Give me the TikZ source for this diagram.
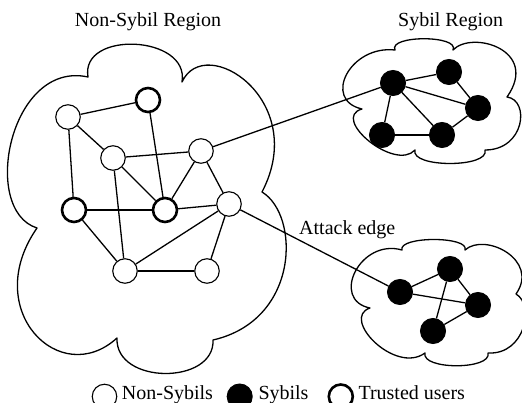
\documentclass[tikz,border=0pt]{standalone}
\usepackage{fontspec}
\setmainfont{Liberation Serif}
\begin{document}
\begin{tikzpicture}[x=1pt,y=-1pt,
  user/.style={circle, draw=black, fill=white, line width=1.1pt, minimum size=24.5pt, inner sep=0pt},
  trusted/.style={user, line width=2.6pt, minimum size=24pt},
  sybil/.style={circle, draw=black, fill=black, line width=1pt, minimum size=25pt, inner sep=0pt},
  link/.style={line width=1.3pt},
  region/.style={line width=1.3pt, line join=round, fill=white},
  caption/.style={font=\fontsize{20}{24}\selectfont, inner sep=0pt}]

\path[use as bounding box] (0,0) rectangle (522,403);
\clip (0,0) rectangle (522,403);
\fill[white] (0,0) rectangle (522,403);

% honest region (cloud)
\draw[region] (88,77)
  .. controls (80,30) and (190,35) .. (182,82)
  .. controls (205,32) and (310,100) .. (262,192)
  .. controls (300,215) and (300,320) .. (213,340)
  .. controls (215,385) and (115,385) .. (117,338)
  .. controls (60,390) and (-20,310) .. (37,228)
  .. controls (-20,210) and (10,60) .. (88,77) -- cycle;

% upper Sybil region
\draw[region] (395,50)
  .. controls (388,35) and (460,35) .. (453,50)
  .. controls (472,30) and (540,50) .. (507,97)
  .. controls (530,100) and (525,150) .. (485,150)
  .. controls (490,168) and (410,168) .. (415,150)
  .. controls (395,172) and (330,118) .. (362,109)
  .. controls (322,100) and (350,45) .. (395,50) -- cycle;

% lower Sybil region
\draw[region] (402,250)
  .. controls (398,236) and (470,236) .. (465,250)
  .. controls (485,232) and (540,260) .. (516,294)
  .. controls (535,305) and (525,355) .. (488,353)
  .. controls (492,370) and (421,370) .. (425,353)
  .. controls (395,375) and (340,318) .. (370,308)
  .. controls (330,300) and (360,238) .. (402,250) -- cycle;

% captions
\node[caption, anchor=base] (capH) at (148,26.5) {Non-Sybil Region};
\node[caption, anchor=base west] (capS) at (398,26.5) {Sybil Region};
\node[caption, anchor=base west] (capA) at (299,234.5) {Attack edge};

% honest users
\node[user]    (a)  at (68,117) {};
\node[trusted] (t1) at (148,100) {};
\node[user]    (b)  at (113,158) {};
\node[user]    (c)  at (201,151) {};
\node[trusted] (t2) at (74,210) {};
\node[trusted] (t3) at (165,210) {};
\node[user]    (d)  at (229,204) {};
\node[user]    (e)  at (125,271) {};
\node[user]    (f)  at (207,271) {};

% Sybils, upper group
\node[sybil] (s1) at (393,83) {};
\node[sybil] (s2) at (449,72) {};
\node[sybil] (s3) at (478,108) {};
\node[sybil] (s4) at (442,135) {};
\node[sybil] (s5) at (382,135) {};

% Sybils, lower group
\node[sybil] (r1) at (400,292) {};
\node[sybil] (r2) at (450,269) {};
\node[sybil] (r3) at (478,305) {};
\node[sybil] (r4) at (433,331) {};

% social links
\draw[link] (a) -- (t1);
\draw[link] (a) -- (b);
\draw[link] (a) -- (t2);
\draw[link] (t1) -- (t3);
\draw[link] (b) -- (c);
\draw[link] (b) -- (t3);
\draw[link] (b) -- (e);
\draw[link] (c) -- (t3);
\draw[link] (c) -- (d);
\draw[link] (t2) -- (t3);
\draw[link] (t2) -- (e);
\draw[link] (t3) -- (d);
\draw[link] (d) -- (e);
\draw[link] (d) -- (f);
\draw[link] (e) -- (f);

\draw[link] (s1) -- (s2);
\draw[link] (s1) -- (s3);
\draw[link] (s1) -- (s4);
\draw[link] (s1) -- (s5);
\draw[link] (s2) -- (s3);
\draw[link] (s3) -- (s4);
\draw[link] (s4) -- (s5);

\draw[link] (r1) -- (r2);
\draw[link] (r1) -- (r3);
\draw[link] (r2) -- (r3);
\draw[link] (r2) -- (r4);
\draw[link] (r3) -- (r4);

% attack edges
\draw[link] (c) -- (s1);
\draw[link] (d) -- (r1);

% legend
\node[user]    (k1) at (104.5,396.5) {};
\node[caption, anchor=base west] (l1) at (121.7,399.3) {Non-Sybils};
\node[sybil]   (k2) at (239.7,396.5) {};
\node[caption, anchor=base west] (l2) at (258.3,399.3) {Sybils};
\node[trusted] (k3) at (340.8,396.5) {};
\node[caption, anchor=base west] (l3) at (358.3,399.3) {Trusted users};
\end{tikzpicture}
\end{document}
